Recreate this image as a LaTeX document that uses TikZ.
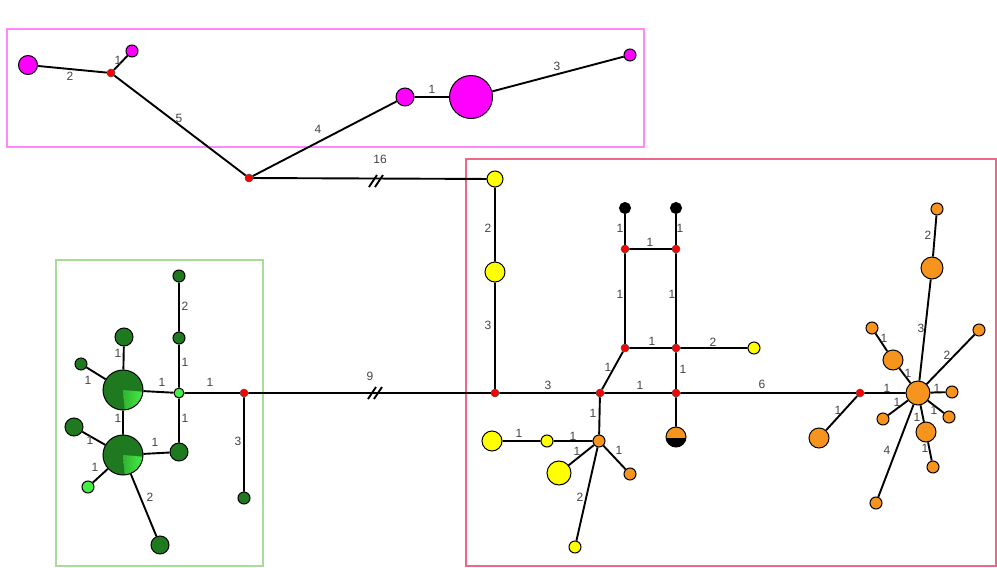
\documentclass[tikz,border=0pt]{standalone}
\usepackage{fontspec}
\setmainfont{Liberation Sans}
\usetikzlibrary{calc}
\definecolor{mag}{HTML}{FF00FF}
\definecolor{magbox}{HTML}{FF88FF}
\definecolor{redbox}{HTML}{EE6688}
\definecolor{grnbox}{HTML}{A8DD98}
\definecolor{hred}{HTML}{FF0000}
\definecolor{yel}{HTML}{FFFF00}
\definecolor{org}{HTML}{F7941D}
\definecolor{dkgreen}{HTML}{1F7A1F}
\definecolor{ltgreen}{HTML}{44EE44}
\definecolor{labgray}{HTML}{444444}
\begin{document}
\begin{tikzpicture}[x=1pt,y=-1pt,
  hap/.style={circle,draw=black,line width=1pt,inner sep=0pt,minimum size=#1},
  med/.style={circle,draw=black!70,line width=0.5pt,fill=hred,inner sep=0pt,minimum size=8},
  lnk/.style={draw=black,line width=1.9pt},
  lab/.style={font=\fontsize{12}{13}\selectfont,text=labgray,inner sep=0pt},
  pie/.style={hap=40,fill=dkgreen,path picture={
     \shade[left color=dkgreen,right color=ltgreen] (path picture bounding box.center) -- ++(5:20) arc[start angle=5,end angle=85,radius=20] -- cycle;}},
  half/.style={hap=20,fill=org,path picture={
     \fill[black] ($(path picture bounding box.west)+(0,1)$) rectangle (path picture bounding box.south east);}},
  brk/.style={draw=black,line width=1.9pt}
]
\useasboundingbox (0,0) rectangle (997,568);
% boxes
\draw[magbox,line width=1.3pt] (7,29) rectangle (644,147);
\draw[redbox,line width=1.3pt] (466,159) rectangle (996,566);
\draw[grnbox,line width=1.3pt] (56,260) rectangle (263,566);

% top group
\node[hap=19,fill=mag] (m1) at (28,65) {};
\node[med] (t1) at (111,73) {};
\node[hap=12,fill=mag] (m2) at (132,51) {};
\node[med] (t2) at (249,178) {};
\node[hap=18,fill=mag] (m3) at (405,97) {};
\node[hap=43,fill=mag] (m4) at (471,97) {};
\node[hap=12,fill=mag] (m5) at (630,55) {};

% green group
\node[hap=12,fill=dkgreen] (g1) at (179,276) {};
\node[hap=12,fill=dkgreen] (g2) at (179,338) {};
\node[hap=10,fill=ltgreen] (lg) at (179,393) {};
\node[med] (r3) at (244,393) {};
\node[pie] (ga) at (123,390) {};
\node[pie] (gb) at (123,455) {};
\node[hap=18,fill=dkgreen] (g3) at (124,337) {};
\node[hap=12,fill=dkgreen] (g4) at (81,364) {};
\node[hap=18,fill=dkgreen] (g5) at (74,427) {};
\node[hap=12,fill=ltgreen] (lg2) at (88,487) {};
\node[hap=18,fill=dkgreen] (g6) at (160,545) {};
\node[hap=18,fill=dkgreen] (g7) at (179,452) {};
\node[hap=12,fill=dkgreen] (g8) at (244,498) {};

% right group
\node[hap=16,fill=yel] (y1) at (495,179) {};
\node[hap=20,fill=yel] (y2) at (495,272) {};
\node[med] (r4) at (495,393) {};
\node[med] (r5) at (600,393) {};
\node[med] (r6) at (625,348) {};
\node[med] (r7) at (676,348) {};
\node[med] (r8) at (625,249) {};
\node[med] (r9) at (676,249) {};
\node[hap=11,fill=black] (b1) at (625,208) {};
\node[hap=11,fill=black] (b2) at (676,208) {};
\node[hap=12,fill=yel] (y3) at (754,348) {};
\node[med] (r10) at (676,393) {};
\node[half] (hb) at (676,437) {};
\node[med] (r11) at (860,393) {};
\node[hap=12,fill=org] (o1) at (599,441) {};
\node[hap=20,fill=yel] (y4) at (492,441) {};
\node[hap=12,fill=yel] (y5) at (547,441) {};
\node[hap=24,fill=yel] (y6) at (559,473) {};
\node[hap=12,fill=org] (o2) at (630,474) {};
\node[hap=12,fill=yel] (y7) at (575,547) {};
% orange cluster
\node[hap=24,fill=org] (oc) at (918,393) {};
\node[hap=20,fill=org] (ol) at (819,438) {};
\node[hap=12,fill=org] (ot) at (937,209) {};
\node[hap=22,fill=org] (ot2) at (932,268) {};
\node[hap=12,fill=org] (oa) at (872,328) {};
\node[hap=20,fill=org] (ob) at (893,360) {};
\node[hap=12,fill=org] (oc1) at (979,330) {};
\node[hap=12,fill=org] (oe) at (952,392) {};
\node[hap=12,fill=org] (of) at (949,417) {};
\node[hap=12,fill=org] (og) at (883,419) {};
\node[hap=20,fill=org] (oh) at (926,432) {};
\node[hap=12,fill=org] (oi) at (933,467) {};
\node[hap=12,fill=org] (oj) at (876,503) {};

% links
\path[lnk] (m1)--(t1) (t1)--(m2) (t1)--(t2) (t2)--(m3) (m3)--(m4) (m4)--(m5) (t2)--(y1);
\path[lnk] (g1)--(g2) (g2)--(lg) (lg)--(r3) (lg)--(ga) (lg)--(g7) (ga)--(gb) (ga)--(g3) (ga)--(g4)
  (gb)--(g5) (gb)--(lg2) (gb)--(g6) (gb)--(g7) (r3)--(g8) (r3)--(r4);
\path[lnk] (y1)--(y2) (y2)--(r4) (r4)--(r5) (r5)--(r6) (r6)--(r7) (r6)--(r8) (r8)--(r9) (r8)--(b1)
  (r9)--(b2) (r9)--(r7) (r7)--(y3) (r7)--(r10) (r5)--(r10) (r10)--(hb) (r10)--(r11) (r5)--(o1)
  (o1)--(y5) (y5)--(y4) (o1)--(y6) (o1)--(o2) (o1)--(y7);
\path[lnk] (r11)--(oc) (r11)--(ol) (oc)--(ot2) (ot2)--(ot) (oc)--(ob) (ob)--(oa) (oc)--(oc1)
  (oc)--(oe) (oc)--(of) (oc)--(og) (oc)--(oh) (oh)--(oi) (oc)--(oj);

% break marks
\path[brk] (369,187)--(377,175) (375,187)--(383,175);
\path[brk] (368,399)--(376,387) (374,399)--(382,387);

% labels
\node[lab] at (70,76) {2};
\node[lab] at (118,60) {1};
\node[lab] at (179,118) {5};
\node[lab] at (318,129) {4};
\node[lab] at (432,89) {1};
\node[lab] at (557,66) {3};
\node[lab] at (380,159) {16};
\node[lab] at (370,376) {9};
% green labels
\node[lab] at (185,306) {2};
\node[lab] at (185,362) {1};
\node[lab] at (162,382) {1};
\node[lab] at (210,382) {1};
\node[lab] at (185,418) {1};
\node[lab] at (118,353) {1};
\node[lab] at (88,380) {1};
\node[lab] at (118,418) {1};
\node[lab] at (90,440) {1};
\node[lab] at (155,442) {1};
\node[lab] at (95,467) {1};
\node[lab] at (150,497) {2};
\node[lab] at (238,441) {3};
% right labels
\node[lab] at (488,228) {2};
\node[lab] at (488,325) {3};
\node[lab] at (548,385) {3};
\node[lab] at (640,385) {1};
\node[lab] at (620,228) {1};
\node[lab] at (680,228) {1};
\node[lab] at (650,242) {1};
\node[lab] at (620,294) {1};
\node[lab] at (672,294) {1};
\node[lab] at (652,341) {1};
\node[lab] at (713,342) {2};
\node[lab] at (608,367) {1};
\node[lab] at (683,369) {1};
\node[lab] at (762,384) {6};
\node[lab] at (593,413) {1};
\node[lab] at (519,433) {1};
\node[lab] at (573,436) {1};
\node[lab] at (577,451) {1};
\node[lab] at (619,450) {1};
\node[lab] at (580,497) {2};
% orange labels
\node[lab] at (928,235) {2};
\node[lab] at (921,328) {3};
\node[lab] at (884,338) {1};
\node[lab] at (908,373) {1};
\node[lab] at (947,355) {2};
\node[lab] at (887,388) {1};
\node[lab] at (937,388) {1};
\node[lab] at (897,402) {1};
\node[lab] at (934,410) {1};
\node[lab] at (917,417) {1};
\node[lab] at (925,448) {1};
\node[lab] at (887,450) {4};
\node[lab] at (838,410) {1};
\end{tikzpicture}
\end{document}
